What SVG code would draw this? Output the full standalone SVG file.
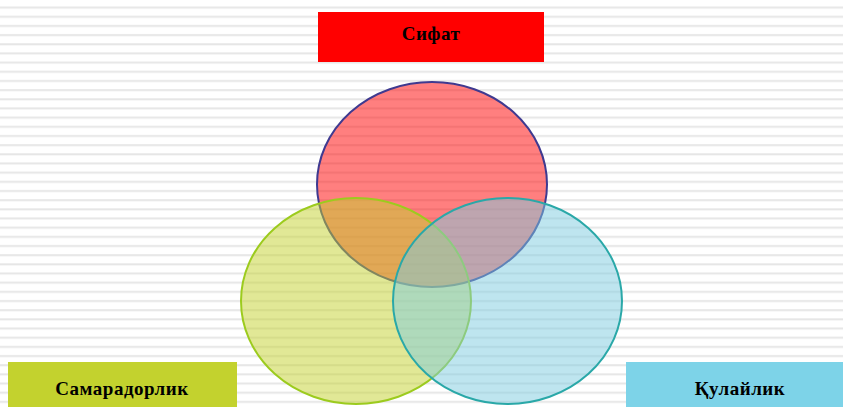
<svg xmlns="http://www.w3.org/2000/svg" width="843" height="407" viewBox="0 0 843 407">
  <defs>
    <pattern id="lines" x="0" y="0" width="843" height="9.17" patternUnits="userSpaceOnUse">
      <rect x="0" y="6.6" width="843" height="2" fill="#e6e6e6"/>
    </pattern>
  </defs>
  <style>
    .label { font-family: "Liberation Serif", "DejaVu Serif", serif; font-weight: bold; font-size: 19px; fill: #000; text-anchor: middle; letter-spacing: 0.5px; }
    .ell { stroke-width: 2; }
  </style>
  <rect width="843" height="407" fill="#ffffff"/>
  <rect width="843" height="407" fill="url(#lines)"/>

  <g id="circle-quality">
    <ellipse class="ell" cx="432" cy="184.5" rx="115" ry="102.5" fill="#ff0000" fill-opacity="0.5" stroke="#3f3a90"/>
  </g>
  <g id="circle-efficiency">
    <ellipse class="ell" cx="356" cy="301" rx="115" ry="103" fill="#c3d22e" fill-opacity="0.5" stroke="#9ccb1e"/>
  </g>
  <g id="circle-convenience">
    <ellipse class="ell" cx="507.5" cy="301" rx="114.5" ry="103" fill="#7dcbdf" fill-opacity="0.5" stroke="#2aa8a8"/>
  </g>

  <g id="box-quality">
    <rect x="318" y="12" width="226" height="50" fill="#ff0000"/>
    <text class="label" x="431" y="40">Сифат</text>
  </g>
  <g id="box-efficiency">
    <rect x="8" y="362" width="229" height="45" fill="#c3d22e"/>
    <text class="label" x="122" y="395">Самарадорлик</text>
  </g>
  <g id="box-convenience">
    <rect x="626" y="362" width="217" height="45" fill="#7dd3e8"/>
    <text class="label" x="740" y="395">Қулайлик</text>
  </g>
  <g id="connectors"/>
</svg>
